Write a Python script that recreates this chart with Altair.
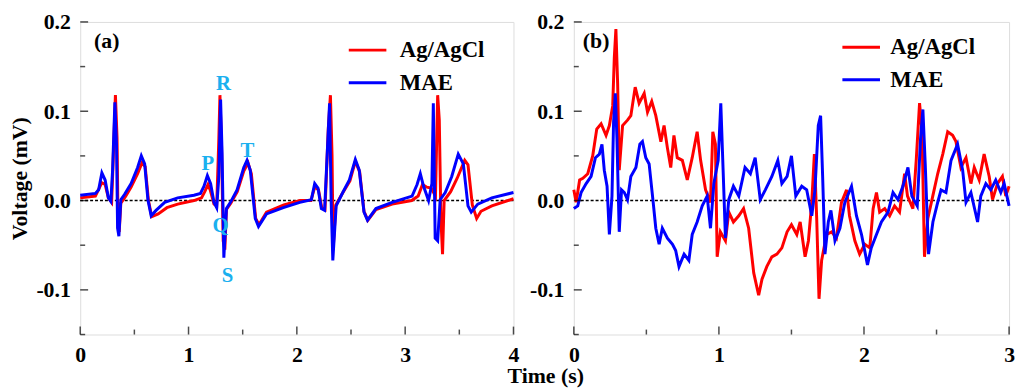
import altair as alt
import pandas as pd

FONT = "Liberation Serif"
SERIES = ["Ag/AgCl", "MAE"]
COLORS = ["#ff0000", "#0000ff"]

# ---------------- Panel (a) data ----------------
a_ag_t = [0.00,0.14,0.20,0.23,0.26,0.29,0.30,0.325,0.34,0.35,0.36,0.375,0.42,0.47,0.53,0.57,0.60,0.63,0.66,0.72,
          0.80,0.90,1.05,1.12,1.15,1.18,1.20,1.235,1.26,1.28,1.29,1.305,1.32,1.335,1.35,1.39,1.45,1.51,1.55,1.58,
          1.62,1.65,1.72,1.88,2.03,2.13,2.165,2.20,2.23,2.26,2.29,2.31,2.325,2.335,2.36,2.42,2.49,2.54,2.58,2.62,
          2.655,2.73,2.88,3.06,3.12,3.16,3.20,3.24,3.28,3.30,3.315,3.33,3.345,3.36,3.42,3.48,3.55,3.58,3.62,3.66,
          3.70,3.80,4.00]
a_ag_v = [0.003,0.005,0.02,0.018,0.003,-0.002,0.03,0.118,0.07,-0.03,-0.035,-0.003,0.005,0.015,0.03,0.042,0.038,0.0,-0.018,-0.015,
          -0.008,-0.004,0.0,0.003,0.01,0.018,0.012,-0.004,-0.006,0.07,0.118,0.06,-0.045,-0.055,-0.01,-0.003,0.01,0.033,0.042,0.03,
          -0.02,-0.027,-0.013,-0.005,0.0,0.0,0.015,0.012,-0.008,-0.01,0.08,0.118,0.05,-0.055,-0.005,0.008,0.022,0.044,0.032,-0.012,
          -0.022,-0.01,-0.004,0.0,0.005,0.018,0.015,0.014,0.005,0.118,0.09,-0.02,-0.06,0.0,0.01,0.025,0.045,0.04,-0.005,-0.02,
          -0.012,-0.006,0.002]
a_mae_t = [0.00,0.14,0.17,0.20,0.23,0.26,0.283,0.299,0.32,0.335,0.345,0.357,0.375,0.41,0.47,0.53,0.564,0.595,0.625,0.655,
           0.70,0.78,0.90,1.05,1.11,1.143,1.174,1.204,1.235,1.26,1.28,1.296,1.31,1.326,1.35,1.387,1.448,1.51,1.54,1.57,
           1.616,1.646,1.72,1.875,2.027,2.134,2.165,2.195,2.226,2.256,2.287,2.302,2.317,2.332,2.363,2.424,2.485,2.54,2.576,2.62,
           2.652,2.73,2.88,3.064,3.11,3.14,3.17,3.216,3.247,3.26,3.277,3.30,3.323,3.37,3.43,3.49,3.537,3.58,3.61,3.67,
           3.80,4.00]
a_mae_v = [0.006,0.008,0.012,0.031,0.023,0.003,-0.001,0.034,0.11,0.063,-0.031,-0.04,0.001,0.007,0.019,0.037,0.05,0.041,0.001,-0.017,
           -0.011,-0.002,0.003,0.006,0.008,0.016,0.028,0.019,-0.002,-0.008,0.027,0.113,0.052,-0.064,-0.009,-0.002,0.012,0.037,0.045,0.034,
           -0.02,-0.029,-0.015,-0.008,-0.002,0.001,0.019,0.014,-0.009,-0.011,0.07,0.109,-0.002,-0.067,-0.006,0.009,0.023,0.046,0.034,-0.013,
           -0.022,-0.009,-0.002,0.005,0.018,0.03,0.016,0.0,0.019,0.109,-0.042,-0.045,0.001,0.009,0.027,0.052,0.041,-0.006,-0.013,-0.004,
           0.003,0.009]
a_ann_text = ["P", "R", "T", "Q", "S"]
a_ann_t = [1.178, 1.324, 1.543, 1.297, 1.36]
a_ann_v = [0.041, 0.130, 0.055, -0.029, -0.084]

# ---------------- Panel (b) data ----------------
b_ag_t = [0,0.016,0.04,0.062,0.096,0.13,0.158,0.188,0.222,0.245,
          0.268,0.279,0.29,0.302,0.313,0.336,0.37,0.393,0.423,0.45,
          0.485,0.508,0.537,0.565,0.60,0.622,0.645,0.668,0.69,0.713,
          0.748,0.782,0.816,0.85,0.874,0.908,0.942,0.958,0.976,0.988,
          1.01,1.045,1.068,1.10,1.137,1.17,1.205,1.24,1.274,1.297,
          1.33,1.365,1.40,1.434,1.47,1.50,1.537,1.56,1.594,1.617,
          1.64,1.658,1.674,1.69,1.708,1.742,1.777,1.81,1.845,1.88,
          1.90,1.937,1.97,2.005,2.04,2.063,2.086,2.108,2.143,2.177,
          2.211,2.245,2.28,2.30,2.337,2.36,2.383,2.40,2.417,2.44,
          2.474,2.508,2.543,2.577,2.611,2.634,2.668,2.703,2.737,2.76,
          2.794,2.828,2.863,2.886,2.92,2.954,2.977,3.0]
b_ag_v = [0.012,-0.002,0.023,0.025,0.03,0.05,0.08,0.086,0.073,0.084,
          0.106,0.16,0.192,0.131,0.034,0.084,0.09,0.095,0.127,0.109,
          0.12,0.099,0.111,0.095,0.066,0.084,0.059,0.037,0.073,0.048,
          0.045,0.023,0.048,0.077,0.045,0.012,-0.002,0.077,0.063,-0.063,
          -0.035,-0.045,-0.013,-0.024,-0.017,-0.009,-0.031,-0.081,-0.106,-0.088,
          -0.074,-0.063,-0.06,-0.053,-0.035,-0.027,-0.038,-0.024,-0.063,-0.045,
          -0.002,0.052,-0.02,-0.11,-0.067,-0.038,-0.035,-0.042,-0.002,0.012,
          -0.017,-0.045,-0.06,-0.049,-0.053,-0.009,0.009,-0.013,-0.009,-0.017,
          -0.006,-0.013,0.03,0.005,-0.009,0.045,0.109,0.077,-0.063,-0.02,
          0.005,0.03,0.052,0.077,0.073,0.066,0.037,0.048,0.019,0.037,
          0.023,0.052,0.027,0.001,0.019,0.027,0.005,0.016]
b_mae_t = [0,0.027,0.05,0.085,0.119,0.149,0.176,0.194,0.21,0.229,
           0.245,0.263,0.274,0.286,0.297,0.313,0.329,0.348,0.37,0.393,
           0.428,0.455,0.473,0.496,0.519,0.547,0.565,0.588,0.61,0.645,
           0.68,0.702,0.725,0.76,0.793,0.816,0.85,0.885,0.919,0.942,
           0.965,0.995,1.013,1.029,1.045,1.068,1.10,1.137,1.18,1.217,
           1.25,1.285,1.32,1.365,1.406,1.434,1.47,1.50,1.53,1.571,
           1.605,1.64,1.662,1.685,1.701,1.715,1.731,1.754,1.772,1.80,
           1.834,1.868,1.914,1.948,1.983,2.024,2.05,2.086,2.12,2.166,
           2.20,2.234,2.268,2.303,2.33,2.367,2.39,2.406,2.422,2.445,
           2.475,2.508,2.531,2.565,2.60,2.645,2.68,2.703,2.737,2.783,
           2.805,2.84,2.874,2.908,2.943,2.966,3.0]
b_mae_v = [-0.009,-0.006,0.009,0.019,0.027,0.048,0.052,0.063,0.034,0.016,
           -0.038,0.005,0.088,0.12,0.07,-0.035,0.012,0.009,0.001,0.027,
           0.037,0.063,0.066,0.048,0.041,-0.002,-0.031,-0.049,-0.031,-0.042,
           -0.049,-0.056,-0.074,-0.06,-0.067,-0.038,-0.024,-0.006,0.005,-0.031,
           0.019,0.045,0.109,0.034,-0.042,0.001,0.016,0.005,0.037,0.03,
           0.048,0.001,0.012,0.027,0.045,0.019,0.027,0.05,0.005,0.016,
           0.012,-0.017,0.012,0.084,0.095,0.027,-0.06,-0.024,-0.011,-0.045,
           -0.031,-0.002,0.016,-0.017,-0.038,-0.072,-0.053,-0.038,-0.024,-0.013,
           0.009,0.001,0.016,0.037,0.005,-0.006,0.07,0.102,0.041,-0.06,
           -0.024,-0.002,0.012,0.009,0.045,0.063,0.034,-0.002,0.009,-0.024,
           0.005,0.019,0.012,0.023,0.009,0.019,-0.006]

# axis tick values
y_major = [-0.1, 0.0, 0.1, 0.2]
y_minor = [-0.15, -0.05, 0.05, 0.15]
a_x_major = [0, 1, 2, 3, 4]
a_x_minor = [0.5, 1.5, 2.5, 3.5]
b_x_major = [0, 1, 2, 3]
b_x_minor = [0.5, 1.5, 2.5]

Y_DOMAIN = [-0.15, 0.2]
LABEL_EXPR = "datum.value < 0 ? '-' + format(-datum.value, '.1f') : format(datum.value, '.1f')"


def make_panel(ag_t, ag_v, mae_t, mae_v, xmax, x_major, x_minor, tag, tag_t,
               ann_text, ann_t, ann_v, ytitle, legend_x, legend_y, label_offset, w, h):
    xs = alt.Scale(domain=[0, xmax], nice=False, zero=False)
    ys = alt.Scale(domain=Y_DOMAIN, nice=False, zero=False)
    xaxis = alt.Axis(values=x_major, format="d", ticks=False, domain=False, grid=False,
                     labelFont=FONT, labelFontSize=22, labelFontWeight="bold", labelColor="black",
                     labelPadding=10, labelFlush=False, title=None)
    yaxis_kw = dict(values=y_major, labelExpr=LABEL_EXPR, ticks=False, domain=False, grid=False,
                    labelFont=FONT, labelFontSize=22, labelFontWeight="bold", labelColor="black",
                    labelPadding=10, labelFlush=False)
    if ytitle:
        yaxis = alt.Axis(title=ytitle, titleFont=FONT, titleFontSize=22, titleFontWeight="bold",
                         titleColor="black", titlePadding=4, **yaxis_kw)
    else:
        yaxis = alt.Axis(title=None, **yaxis_kw)

    color = alt.Color("s:N", scale=alt.Scale(domain=SERIES, range=COLORS),
                      legend=alt.Legend(orient="none", legendX=legend_x, legendY=legend_y,
                                        title=None, symbolType="stroke", symbolStrokeWidth=3,
                                        symbolSize=1444, labelFont=FONT, labelFontSize=23,
                                        labelFontWeight="bold", labelColor="black",
                                        labelOffset=label_offset, rowPadding=-10, padding=0))

    df_ag = pd.DataFrame({"t": ag_t, "v": ag_v, "s": SERIES[0]})
    df_mae = pd.DataFrame({"t": mae_t, "v": mae_v, "s": SERIES[1]})

    X = alt.X("t:Q", scale=xs, axis=xaxis)
    Y = alt.Y("v:Q", scale=ys, axis=yaxis)

    zero = alt.Chart(pd.DataFrame({"v": [0.0]})).mark_rule(
        strokeDash=[3, 2], strokeWidth=1.5, color="black").encode(y=alt.Y("v:Q", scale=ys))

    red = alt.Chart(df_ag).mark_line(strokeWidth=3).encode(x=X, y=Y, color=color)
    blue = alt.Chart(df_mae).mark_line(strokeWidth=3).encode(x=X, y=Y, color=color)

    xt_major = alt.Chart(pd.DataFrame({"t": x_major})).mark_tick(
        orient="vertical", size=8, thickness=1.5, color="black", yOffset=-4).encode(
        x=alt.X("t:Q", scale=xs), y=alt.datum(Y_DOMAIN[0]))
    xt_minor = alt.Chart(pd.DataFrame({"t": x_minor})).mark_tick(
        orient="vertical", size=5, thickness=1.5, color="black", yOffset=-2.5).encode(
        x=alt.X("t:Q", scale=xs), y=alt.datum(Y_DOMAIN[0]))
    yt_major = alt.Chart(pd.DataFrame({"v": y_major})).mark_tick(
        orient="horizontal", size=8, thickness=1.5, color="black", xOffset=4).encode(
        y=alt.Y("v:Q", scale=ys), x=alt.datum(0))
    yt_minor = alt.Chart(pd.DataFrame({"v": y_minor})).mark_tick(
        orient="horizontal", size=5, thickness=1.5, color="black", xOffset=2.5).encode(
        y=alt.Y("v:Q", scale=ys), x=alt.datum(0))

    tag_chart = alt.Chart(pd.DataFrame({"t": [tag_t], "v": [0.179], "txt": [tag]})).mark_text(
        font=FONT, fontSize=22, fontWeight="bold", color="black", align="left", baseline="middle").encode(
        x=alt.X("t:Q", scale=xs), y=alt.Y("v:Q", scale=ys), text="txt:N")

    layers = [zero, red, blue, xt_major, xt_minor, yt_major, yt_minor, tag_chart]
    if ann_text:
        ann = alt.Chart(pd.DataFrame({"t": ann_t, "v": ann_v, "txt": ann_text})).mark_text(
            font=FONT, fontSize=21, fontWeight="bold", color="#1ab0ef", align="center", baseline="middle").encode(
            x=alt.X("t:Q", scale=xs), y=alt.Y("v:Q", scale=ys), text="txt:N")
        layers.append(ann)
    return alt.layer(*layers).properties(width=w, height=h)


pa = make_panel(a_ag_t, a_ag_v, a_mae_t, a_mae_v, 4, a_x_major, a_x_minor, "(a)", 0.128,
                a_ann_text, a_ann_t, a_ann_v, "Voltage (mV)", 270, 8, 12, 438, 316)
pb = make_panel(b_ag_t, b_ag_v, b_mae_t, b_mae_v, 3, b_x_major, b_x_minor, "(b)", 0.062,
                None, None, None, None, 270, 5, 9, 440, 316)

chart = alt.hconcat(pa, pb, spacing=8).resolve_scale(color="independent").properties(
    padding={"left": 0, "top": 0, "right": 0, "bottom": 0},
    title=alt.TitleParams("Time (s)", orient="bottom", anchor="middle", dx=34, offset=1,
                          font=FONT, fontSize=22, fontWeight="bold", color="black"),
).configure_view(stroke="black", strokeWidth=2).configure(background="white")

chart.save("out.html", embed_options={"renderer": "svg", "actions": False})
